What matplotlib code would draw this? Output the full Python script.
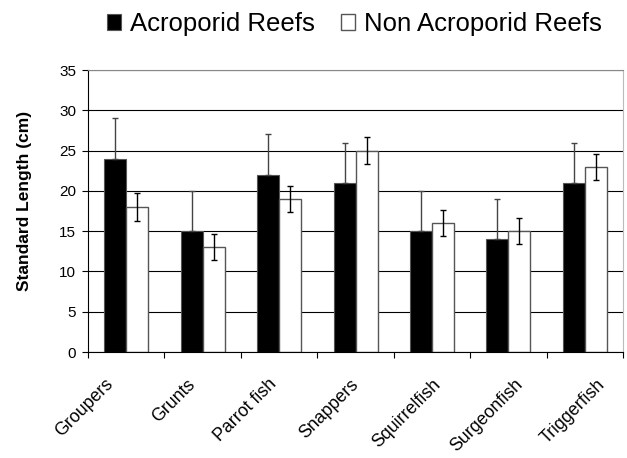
import numpy as np
import matplotlib.pyplot as plt
import matplotlib
from matplotlib.transforms import ScaledTranslation

matplotlib.rcParams['font.family'] = ['Liberation Sans', 'DejaVu Sans']

fish = ['Groupers', 'Grunts', 'Parrot fish', 'Snappers',
        'Squirrelfish', 'Surgeonfish', 'Triggerfish']
acro = [24, 15, 22, 21, 15, 14, 21]
acro_err = [5, 5, 5, 5, 5, 5, 5]
non_acro = [18, 13, 19, 25, 16, 15, 23]
non_acro_err = [1.7, 1.6, 1.6, 1.7, 1.6, 1.6, 1.6]

x = np.arange(len(fish))
w = 0.288

fig = plt.figure(figsize=(6.27, 4.58), dpi=100)
ax = fig.add_axes([0.1404, 0.2314, 0.8533, 0.6157])

ax.set_axisbelow(True)
ax.yaxis.grid(True, color='black', linewidth=0.8)

# lower half of the black bars' error bars is hidden inside the bar anyway
ax.bar(x - w/2, acro, w, color='black', edgecolor='#555555', linewidth=0.8,
       yerr=[np.zeros(len(acro)), acro_err],
       error_kw=dict(ecolor='#444444', elinewidth=1, capsize=2.5, capthick=1),
       label='Acroporid Reefs')
ax.bar(x + w/2, non_acro, w, color='white', edgecolor='#555555', linewidth=1,
       yerr=non_acro_err, error_kw=dict(ecolor='black', elinewidth=1, capsize=2.5, capthick=1),
       label='Non Acroporid Reefs')

ax.set_xlim(-0.5, len(fish) - 0.5)
ax.set_ylim(0, 35)
ax.set_yticks(range(0, 36, 5))
ax.tick_params(axis='y', direction='out', length=4.5, width=0.8, labelsize=11, pad=4)

ax.set_xticks(np.arange(len(fish) + 1) - 0.5)
ax.set_xticklabels([])
ax.tick_params(axis='x', direction='out', length=4.5, width=0.8)
ax.set_xticks(x, minor=True)
ax.set_xticklabels(fish, minor=True, rotation=45, ha='right', va='center',
                   rotation_mode='anchor', fontsize=12.8)
ax.tick_params(axis='x', which='minor', length=0, pad=21.5)
# labels in the original drift a little to the right across the axis
for i, lab in enumerate(ax.get_xticklabels(minor=True)):
    shift = ScaledTranslation((-16 + 5.6 * i) / 100, 0, fig.dpi_scale_trans)
    lab.set_transform(lab.get_transform() + shift)

ax.spines['left'].set_color('black')
ax.spines['bottom'].set_color('black')
ax.spines['top'].set_color('#888888')
ax.spines['right'].set_color('#bbbbbb')

ax.set_ylabel('Standard Length (cm)', fontsize=12.5, fontweight='bold')
ax.yaxis.set_label_coords(-0.105, 0.535)

fig.legend(loc='center', bbox_to_anchor=(0.565, 0.948), ncol=2, frameon=False,
           fontsize=18.5, handlelength=0.55, handleheight=0.6, handletextpad=0.35,
           columnspacing=1.0)

plt.savefig('out.png', dpi=100)
